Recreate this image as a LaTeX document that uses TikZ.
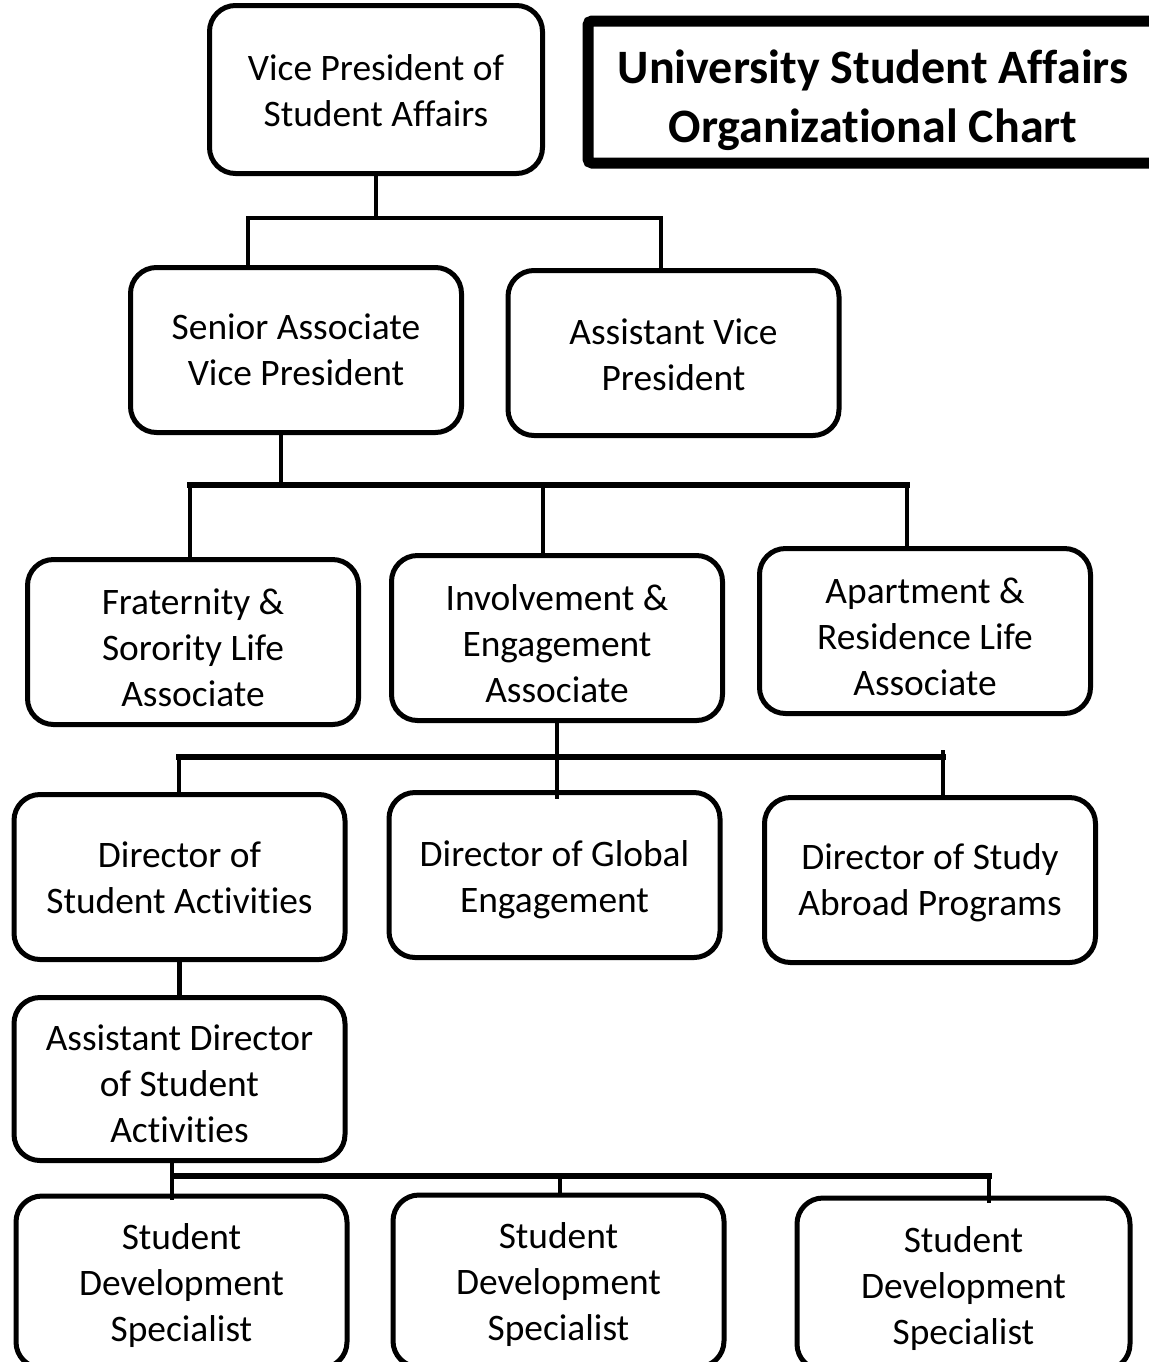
\documentclass[tikz,border=0pt]{standalone}
\usepackage{fontspec}
\setmainfont{Carlito}[Ligatures=NoCommon]
% stacked lines whose printed position is lowered inside their frame
\newcommand\loweredlines[2]{\raisebox{-#1}[\height][\depth]{\begin{tabular}{@{}c@{}}#2\end{tabular}}}
\begin{document}
\begin{tikzpicture}[x=0.5pt,y=-0.5pt,
  box/.style={draw, line width=2.5pt, rounded corners=13pt, align=center,
    minimum width=165.5pt, minimum height=82.5pt, inner sep=0pt,
    font=\fontsize{18.7}{23}\selectfont},
  lowbox/.style={box, minimum height=86pt},
  conn/.style={line width=2.3pt, line cap=rect},
  bus/.style={conn, line width=2.8pt},
  titlebox/.style={draw, line width=5.5pt, rounded corners=2pt, align=center,
    minimum width=285pt, minimum height=71pt, inner sep=0pt,
    font=\fontsize{24}{29.5}\selectfont\bfseries}]
\useasboundingbox (0,0) rectangle (1149,1362);
\clip (0,0) rectangle (1149,1362);

% heading
\node[titlebox] (title) at (873,92) {\loweredlines{4.5pt}{University Student Affairs\\Organizational Chart}};

% top level
\node[box, minimum width=166.5pt, minimum height=84pt] (vp) at (376,89.5) {\loweredlines{2.3pt}{Vice President of\\Student Affairs}};

% second level
\node[box] (savp) at (296,350) {\loweredlines{1.8pt}{Senior Associate\\Vice President}};
\node[box] (avp) at (673.5,353) {\loweredlines{2.5pt}{Assistant Vice\\President}};

% associates
\node[box] (frat) at (193,642) {\loweredlines{4.5pt}{Fraternity \&\\Sorority Life\\Associate}};
\node[box] (inv) at (557,638) {\loweredlines{4.5pt}{Involvement \&\\Engagement\\Associate}};
\node[box] (apt) at (925,631) {\loweredlines{4.5pt}{Apartment \&\\Residence Life\\Associate}};

% directors
\node[box] (dsa) at (179.5,877) {\loweredlines{2pt}{Director of\\Student Activities}};
\node[box] (glob) at (554.5,875) {\loweredlines{2.5pt}{Director of Global\\Engagement}};
\node[box] (study) at (930,880) {\loweredlines{1.5pt}{Director of Study\\Abroad Programs}};

% assistant director
\node[box, minimum height=81.5pt] (asst) at (179.5,1079) {\loweredlines{4pt}{Assistant Director\\of Student\\Activities}};

% specialists
\node[lowbox] (sds1) at (181.5,1282) {\loweredlines{2pt}{Student\\Development\\Specialist}};
\node[lowbox] (sds2) at (558.5,1281) {\loweredlines{2pt}{Student\\Development\\Specialist}};
\node[lowbox, minimum width=166.5pt] (sds3) at (963.5,1284) {\loweredlines{2.5pt}{Student\\Development\\Specialist}};

% VP -> second level
\coordinate (j1) at (376,218);
\coordinate (j1l) at (248,218);
\coordinate (j1r) at (661,218);
\draw[conn] (vp.south) -- (j1);
\draw[conn] (j1l) -- (j1r);
\draw[conn] (j1l) -- (j1l |- savp.north);
\draw[conn] (j1r) -- (j1r |- avp.north);

% senior associate -> associates
\coordinate (j2) at (281,485);
\coordinate (j2l) at (190,485);
\coordinate (j2m) at (543,485);
\coordinate (j2r) at (907,485);
\draw[conn] (j2 |- savp.south) -- (j2);
\draw[bus] (j2l) -- (j2r);
\draw[conn] (j2l) -- (j2l |- frat.north);
\draw[conn] (j2m) -- (j2m |- inv.north);
\draw[conn] (j2r) -- (j2r |- apt.north);

% involvement -> directors
\coordinate (j3l) at (179,757);
\coordinate (j3r) at (943,757);
\draw[conn] (inv.south) -- ([yshift=-3.5pt]inv.south |- glob.north);
\draw[bus] (j3l) -- (j3r);
\draw[conn] (j3l) -- (j3l |- dsa.north);
\draw[conn] ([yshift=2.5pt]j3r) -- ([yshift=-1pt]j3r |- study.north);

% director -> assistant director
\draw[conn] (dsa.south) -- (asst.north);

% assistant director -> specialists
\coordinate (j5) at (172,1176);
\coordinate (j5l) at (176,1176);
\coordinate (j5m) at (560,1176);
\coordinate (j5r) at (989,1176);
\draw[conn] (j5 |- asst.south) -- ([yshift=-2pt]j5 |- sds1.north);
\draw[bus] (j5l) -- (j5r);
\draw[conn] (j5m) -- (j5m |- sds2.north);
\draw[conn] (j5r) -- ([yshift=-2.5pt]j5r |- sds3.north);
\end{tikzpicture}
\end{document}
